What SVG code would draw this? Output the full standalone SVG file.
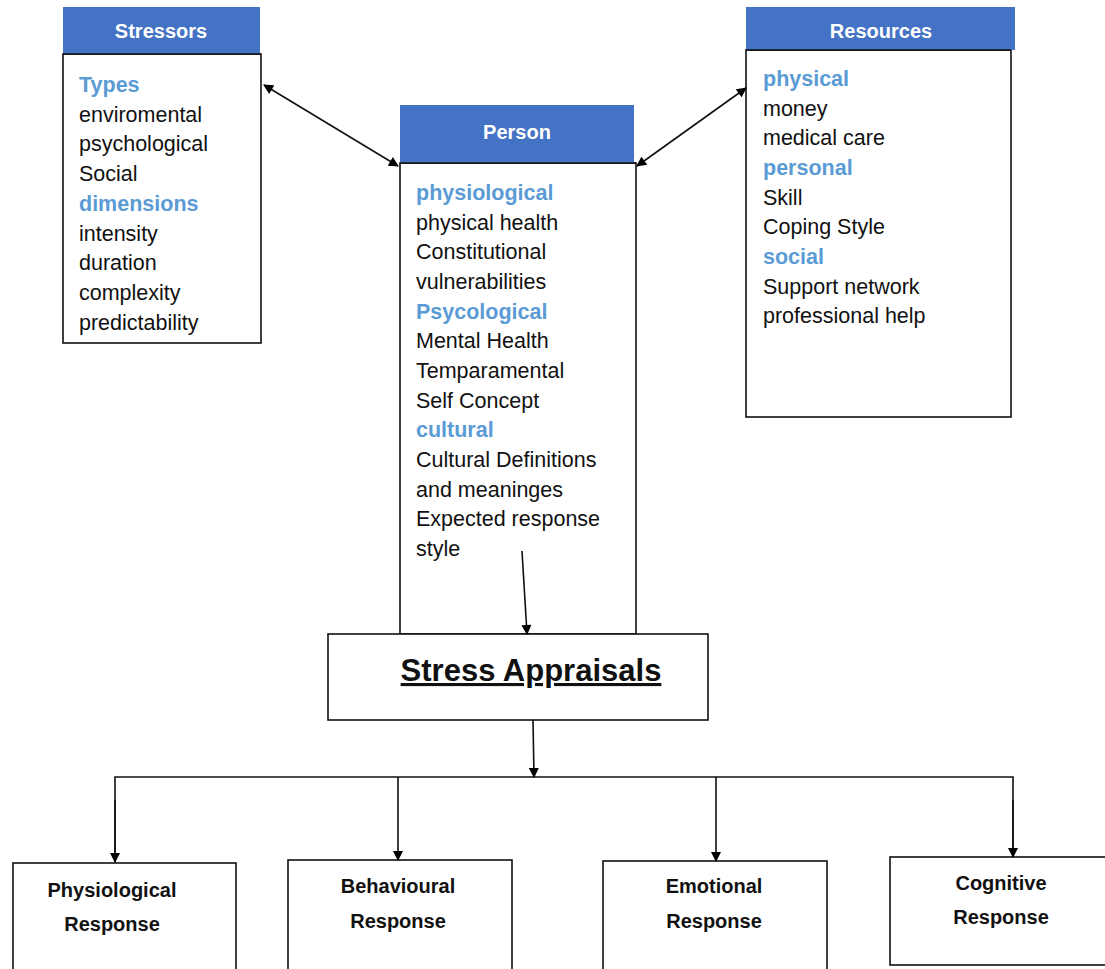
<svg xmlns="http://www.w3.org/2000/svg" width="1105" height="969" viewBox="0 0 1105 969">
<defs>
<marker id="ah" viewBox="0 0 10 10" refX="9" refY="5" markerWidth="11" markerHeight="10" orient="auto-start-reverse" markerUnits="userSpaceOnUse">
<path d="M0,0 L10,5 L0,10 z" fill="#000"/>
</marker>
<style>
.hdr{fill:#4472c4;stroke:none}
.box{fill:#fff;stroke:#111;stroke-width:1.6}
.ht{font-family:"Liberation Sans",Arial,sans-serif;font-weight:bold;font-size:20px;fill:#fff;text-anchor:middle}
.t{font-family:"Liberation Sans",Arial,sans-serif;font-size:21.5px;fill:#111}
.b{font-family:"Liberation Sans",Arial,sans-serif;font-size:21.5px;fill:#5b9bd5;font-weight:bold}
.rt{font-family:"Liberation Sans",Arial,sans-serif;font-weight:bold;font-size:20px;fill:#111;text-anchor:middle}
.c{stroke:#111;stroke-width:1.6;fill:none}
</style>
</defs>
<g id="stressors">
<rect class="box" x="63" y="54" width="198" height="289"/>
<rect class="hdr" x="63" y="7" width="197" height="47"/>
<line x1="63" y1="54" x2="261" y2="54" stroke="#111" stroke-width="1.6"/>
<text class="ht" x="161" y="38">Stressors</text>
<text class="b" x="79" y="92">Types</text>
<text class="t" x="79" y="122">enviromental</text>
<text class="t" x="79" y="151">psychological</text>
<text class="t" x="79" y="181">Social</text>
<text class="b" x="79" y="211">dimensions</text>
<text class="t" x="79" y="241">intensity</text>
<text class="t" x="79" y="270">duration</text>
<text class="t" x="79" y="300">complexity</text>
<text class="t" x="79" y="330">predictability</text>
</g>
<g id="person">
<rect class="box" x="400" y="163" width="236" height="471"/>
<rect class="hdr" x="400" y="105" width="234" height="58"/>
<line x1="400" y1="163" x2="636" y2="163" stroke="#111" stroke-width="1.6"/>
<text class="ht" x="517" y="139">Person</text>
<text class="b" x="416" y="200">physiological</text>
<text class="t" x="416" y="230">physical health</text>
<text class="t" x="416" y="259">Constitutional</text>
<text class="t" x="416" y="289">vulnerabilities</text>
<text class="b" x="416" y="319">Psycological</text>
<text class="t" x="416" y="348">Mental Health</text>
<text class="t" x="416" y="378">Temparamental</text>
<text class="t" x="416" y="408">Self Concept</text>
<text class="b" x="416" y="437">cultural</text>
<text class="t" x="416" y="467">Cultural Definitions</text>
<text class="t" x="416" y="497">and meaninges</text>
<text class="t" x="416" y="526">Expected response</text>
<text class="t" x="416" y="556">style</text>
</g>
<g id="resources">
<rect class="box" x="746" y="50" width="265" height="367"/>
<rect class="hdr" x="746" y="7" width="269" height="43"/>
<line x1="746" y1="50" x2="1011" y2="50" stroke="#111" stroke-width="1.6"/>
<text class="ht" x="881" y="38">Resources</text>
<text class="b" x="763" y="86">physical</text>
<text class="t" x="763" y="116">money</text>
<text class="t" x="763" y="145">medical care</text>
<text class="b" x="763" y="175">personal</text>
<text class="t" x="763" y="205">Skill</text>
<text class="t" x="763" y="234">Coping Style</text>
<text class="b" x="763" y="264">social</text>
<text class="t" x="763" y="294">Support network</text>
<text class="t" x="763" y="323">professional help</text>
</g>
<g id="appraisals">
<rect class="box" x="328" y="634" width="380" height="86"/>
<text x="531" y="681" font-family="'Liberation Sans',Arial,sans-serif" font-weight="bold" font-size="31" fill="#111" text-anchor="middle" text-decoration="underline">Stress Appraisals</text>
</g>
<g id="physiological">
<rect class="box" x="13" y="863" width="223" height="110"/>
<text class="rt" x="112" y="897">Physiological</text>
<text class="rt" x="112" y="931">Response</text>
</g>
<g id="behavioural">
<rect class="box" x="288" y="860" width="224" height="113"/>
<text class="rt" x="398" y="893">Behavioural</text>
<text class="rt" x="398" y="928">Response</text>
</g>
<g id="emotional">
<rect class="box" x="603" y="861" width="224" height="112"/>
<text class="rt" x="714" y="893">Emotional</text>
<text class="rt" x="714" y="928">Response</text>
</g>
<g id="cognitive">
<rect class="box" x="890" y="857" width="220" height="108"/>
<text class="rt" x="1001" y="890">Cognitive</text>
<text class="rt" x="1001" y="924">Response</text>
</g>
<g id="connectors">
<line class="c" x1="264" y1="85" x2="398" y2="166" marker-start="url(#ah)" marker-end="url(#ah)"/>
<line class="c" x1="746" y1="88" x2="637" y2="166" marker-start="url(#ah)" marker-end="url(#ah)"/>
<line class="c" x1="522" y1="551" x2="527" y2="634" marker-end="url(#ah)"/>
<line class="c" x1="533" y1="720" x2="534" y2="777" marker-end="url(#ah)"/>
<polyline class="c" points="115,862 115,777 1013,777 1013,857"/>
<line class="c" x1="115" y1="800" x2="115" y2="862" marker-end="url(#ah)"/>
<line class="c" x1="398" y1="777" x2="398" y2="860" marker-end="url(#ah)"/>
<line class="c" x1="716" y1="777" x2="716" y2="861" marker-end="url(#ah)"/>
<line class="c" x1="1013" y1="800" x2="1013" y2="857" marker-end="url(#ah)"/>
</g>
</svg>
